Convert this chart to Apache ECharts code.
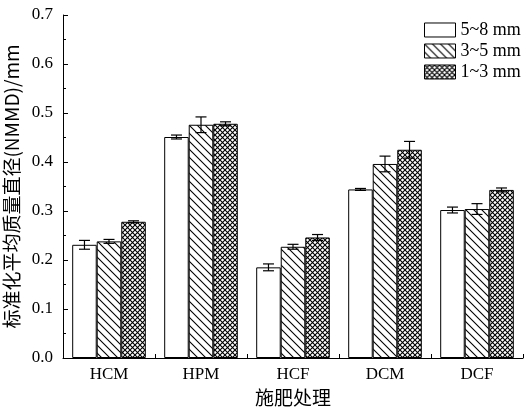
<!DOCTYPE html>
<html><head><meta charset="utf-8">
<script src="https://cdn.jsdelivr.net/npm/echarts@6/dist/echarts.min.js"></script>
<style>html,body{margin:0;padding:0;background:#fff}#c{width:529px;height:410px}</style>
</head><body><div id="c"></div>
<script>
var categories = ['HCM', 'HPM', 'HCF', 'DCM', 'DCF'];
var seriesNames = ['5~8 mm', '3~5 mm', '1~3 mm'];
var vals58 = [0.231, 0.451, 0.185, 0.344, 0.302];
var vals35 = [0.238, 0.476, 0.227, 0.396, 0.304];
var vals13 = [0.278, 0.478, 0.246, 0.425, 0.343];
var err58 = [0.009, 0.004, 0.007, 0.002, 0.006];
var err35 = [0.004, 0.016, 0.005, 0.016, 0.011];
var err13 = [0.002, 0.004, 0.006, 0.017, 0.004];
var yTicks = [0, 0.1, 0.2, 0.3, 0.4, 0.5, 0.6, 0.7];

function hatchCanvas() {
  var c = document.createElement('canvas'); c.width = 8; c.height = 8;
  var g = c.getContext('2d');
  g.fillStyle = '#fff'; g.fillRect(0, 0, 8, 8);
  g.strokeStyle = '#000'; g.lineWidth = 1.1;
  g.beginPath();
  g.moveTo(-1, -1); g.lineTo(9, 9);
  g.moveTo(7, -1); g.lineTo(9, 1);
  g.moveTo(-1, 7); g.lineTo(1, 9);
  g.stroke();
  return c;
}
function crossCanvas() {
  var n = 5;
  var c = document.createElement('canvas'); c.width = n; c.height = n;
  var g = c.getContext('2d');
  g.fillStyle = '#fff'; g.fillRect(0, 0, n, n);
  g.strokeStyle = '#000'; g.lineWidth = 1.1;
  g.beginPath();
  g.moveTo(-1, -1); g.lineTo(n + 1, n + 1);
  g.moveTo(n + 1, -1); g.lineTo(-1, n + 1);
  g.stroke();
  return c;
}
var fills = ['#ffffff', {image: hatchCanvas(), repeat: 'repeat'}, {image: crossCanvas(), repeat: 'repeat'}];
var allVals = [vals58, vals35, vals13];
var allErr = [err58, err35, err13];

var chart = echarts.init(document.getElementById('c'), null, {renderer: 'canvas'});
var font = "'Liberation Serif', 'Times New Roman', 'Noto Sans CJK SC', serif";

var series = [];
for (var s = 0; s < 3; s++) {
  series.push({
    name: seriesNames[s], type: 'bar', data: allVals[s],
    barGap: '0%', barCategoryGap: '20%',
    itemStyle: {color: fills[s], borderColor: '#000', borderWidth: 1},
    emphasis: {disabled: true}, animation: false
  });
}
var errData = [];
for (var s2 = 0; s2 < 3; s2++) {
  for (var i = 0; i < categories.length; i++) {
    errData.push([i, allVals[s2][i], allErr[s2][i], s2]);
  }
}
series.push({
  type: 'custom', name: 'err', data: errData, z: 10, silent: true, animation: false,
  renderItem: function (params, api) {
    var ci = api.value(0), v = api.value(1), e = api.value(2), si = api.value(3);
    var band = api.size([1, 0])[0];
    var bw = band * 0.8 / 3;
    var center = api.coord([ci, v]);
    var x = center[0] + (si - 1) * bw;
    var hi = api.coord([ci, v + e])[1];
    var lo = api.coord([ci, v - e])[1];
    var cap = 5.5;
    var st = {stroke: '#000', lineWidth: 1.2, fill: null};
    return {type: 'group', children: [
      {type: 'line', shape: {x1: x, y1: hi, x2: x, y2: lo}, style: st},
      {type: 'line', shape: {x1: x - cap, y1: hi, x2: x + cap, y2: hi}, style: st},
      {type: 'line', shape: {x1: x - cap, y1: lo, x2: x + cap, y2: lo}, style: st}
    ]};
  }
});

chart.setOption({
  animation: false,
  backgroundColor: '#fff',
  grid: {left: 63, right: 6, top: 15, bottom: 52, outerBoundsMode: 'none', containLabel: false},
  legend: {
    data: seriesNames, orient: 'vertical', left: 424, top: 21, padding: 0,
    itemWidth: 31, itemHeight: 14, itemGap: 3,
    icon: 'rect',
    itemStyle: {borderWidth: 1, borderColor: '#000'},
    textStyle: {fontFamily: font, fontSize: 18, color: '#000', padding: [0, 0, 0, 0]}
  },
  xAxis: {
    type: 'category', data: categories,
    axisLine: {lineStyle: {color: '#000', width: 1}},
    axisTick: {show: true, inside: true, length: 4, lineStyle: {color: '#000'}},
    axisLabel: {fontFamily: font, fontSize: 17, color: '#000', margin: 8},
    name: '施肥处理', nameLocation: 'middle', nameGap: 30,
    nameTextStyle: {fontFamily: "'Noto Sans CJK SC', sans-serif", fontSize: 19, color: '#000'}
  },
  yAxis: {
    type: 'value', min: 0, max: 0.7, interval: 0.1,
    axisLine: {show: true, lineStyle: {color: '#000', width: 1}},
    axisTick: {show: true, inside: true, length: 5, lineStyle: {color: '#000'}},
    minorTick: {show: true, splitNumber: 2, length: 3, lineStyle: {color: '#000'}},
    splitLine: {show: false},
    axisLabel: {fontFamily: font, fontSize: 17, color: '#000', margin: 10,
      formatter: function (v) { return yTicks.indexOf(+v.toFixed(1)) >= 0 ? v.toFixed(1) : ''; }},
    name: '标准化平均质量直径(NMMD)/mm', nameLocation: 'middle', nameGap: 35,
    nameTextStyle: {fontFamily: "'Noto Sans CJK SC', sans-serif", fontSize: 19, color: '#000'}
  },
  series: series
});
</script></body></html>
